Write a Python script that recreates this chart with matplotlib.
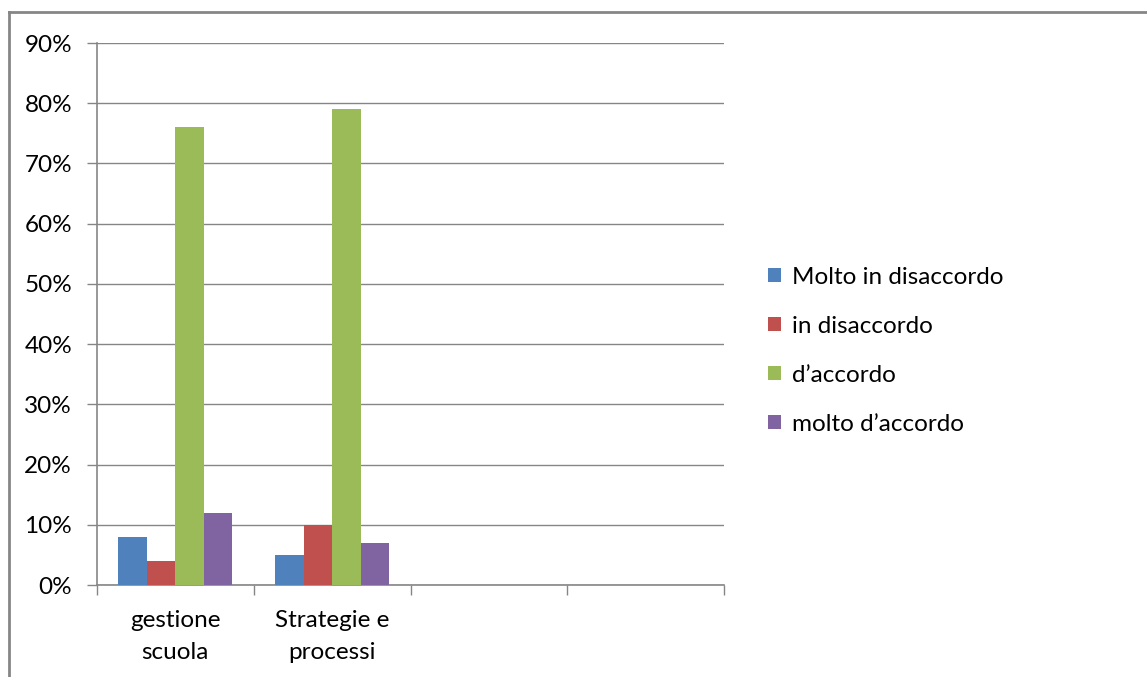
import matplotlib
matplotlib.use("Agg")
import matplotlib.pyplot as plt
from matplotlib.lines import Line2D
import numpy as np

categories = ["gestione\nscuola", "Strategie e\nprocessi", "", ""]
series_names = ["Molto in disaccordo", "in disaccordo", "d\u2019accordo", "molto d\u2019accordo"]
molto_disaccordo = [8, 5]
disaccordo = [4, 10]
accordo = [76, 79]
molto_accordo = [12, 7]
colors = ["#4F81BD", "#C0504D", "#9BBB59", "#8064A2"]
yticks = [0, 10, 20, 30, 40, 50, 60, 70, 80, 90]

plt.rcParams['font.family'] = ['Lato', 'DejaVu Sans']

W, H = 1147, 677
fig = plt.figure(figsize=(W / 100, H / 100), dpi=100)
ax = fig.add_axes([97 / W, 1 - 585 / H, 627 / W, 542 / H])

gray = "#868686"
fs = 17.5
series = [molto_disaccordo, disaccordo, accordo, molto_accordo]
n = len(series)
bw = 1 / (n + 1.5)
for i, (vals, c, name) in enumerate(zip(series, colors, series_names)):
    x = np.arange(len(vals)) + 0.5 + (i - (n - 1) / 2) * bw
    ax.bar(x, vals, width=bw, color=c, label=name, zorder=3)

ax.set_xlim(0, len(categories))
ax.set_ylim(0, 90)
ax.set_yticks(yticks)
ax.set_yticklabels([f"{v}%" for v in yticks], fontsize=fs)
ax.yaxis.grid(True, color=gray, linewidth=1)
ax.set_axisbelow(True)

ax.set_xticks(np.arange(len(categories) + 1))
ax.set_xticklabels([])
ax.set_xticks(np.arange(len(categories)) + 0.5, minor=True)
ax.set_xticklabels(categories, minor=True, fontsize=fs, linespacing=1.65)
ax.tick_params(axis='x', which='major', length=7, width=1, color=gray, direction='out')
ax.tick_params(axis='x', which='minor', length=0, pad=18)
ax.tick_params(axis='y', length=7, width=1, color=gray, direction='out', pad=11)

for s in ['top', 'right']:
    ax.spines[s].set_visible(False)
for s in ['left', 'bottom']:
    ax.spines[s].set_color(gray)
    ax.spines[s].set_linewidth(1.2)

leg = fig.legend(loc='upper left', bbox_to_anchor=(758 / W, 1 - 257 / H),
                 frameon=False, fontsize=fs, handlelength=0.55, handleheight=0.55,
                 handletextpad=0.45, labelspacing=1.15, borderaxespad=0)

# outer chart frame (top and left visible)
fig.add_artist(Line2D([9 / W, 1], [1 - 12 / H, 1 - 12 / H], color=gray, linewidth=2,
                      transform=fig.transFigure))
fig.add_artist(Line2D([9 / W, 9 / W], [0, 1 - 12 / H], color=gray, linewidth=2,
                      transform=fig.transFigure))

fig.savefig("out.png", dpi=100)
